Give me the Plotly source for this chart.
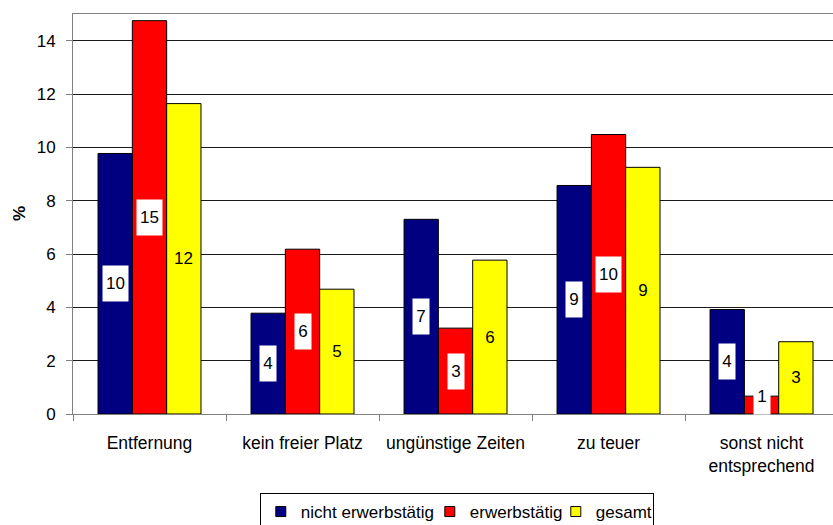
import plotly.graph_objects as go

categories = ["Entfernung", "kein freier Platz", "ungünstige Zeiten", "zu teuer",
              "sonst nicht<br>entsprechend"]
series_names = ["nicht erwerbstätig", "erwerbstätig", "gesamt"]
nicht_erwerbstaetig = [9.77, 3.78, 7.30, 8.57, 3.92]
erwerbstaetig = [14.75, 6.18, 3.22, 10.48, 0.67]
gesamt = [11.64, 4.68, 5.77, 9.25, 2.71]
y_ticks = [0, 2, 4, 6, 8, 10, 12, 14]

colors = ["#000080", "#FF0000", "#FFFF00"]
label_bg = ["white", "white", None]
legend_entry_widths = [124, 81, 52]
series = [nicht_erwerbstaetig, erwerbstaetig, gesamt]

FONT = "Liberation Sans, Arial, sans-serif"
FS = 17

fig = go.Figure()
for name, vals, col in zip(series_names, series, colors):
    fig.add_trace(go.Bar(
        x=categories, y=vals, name=name, showlegend=False,
        marker=dict(color=col, line=dict(color="#000000", width=1)),
    ))
# legend entries with small square symbols
for name, col, ew in zip(series_names, colors, legend_entry_widths):
    fig.add_trace(go.Scatter(
        x=[None], y=[None], mode="markers", name=name, legendwidth=ew,
        marker=dict(symbol="square", size=10, color=col,
                    line=dict(color="#000000", width=1)),
    ))

# data labels
plot_h = 400.0
y_max = 15.0
px_per_unit = plot_h / y_max
box_h = 35
min_center = (box_h / 2) / px_per_unit
n_series = len(series)
group_frac = 1 - 0.327
annotations = []
for si, (vals, bg) in enumerate(zip(series, label_bg)):
    for ci, v in enumerate(vals):
        xoff = (si - (n_series - 1) / 2) * group_frac / n_series
        txt = str(int(round(v)))
        ann = dict(
            x=ci + xoff, y=max(v / 2, min_center), xref="x", yref="y",
            text=txt, showarrow=False,
            font=dict(family=FONT, size=FS, color="#000000"),
            height=box_h - 2, width=9 * len(txt) + 5,
            xanchor="center", yanchor="middle",
        )
        if bg:
            ann["bgcolor"] = bg
        annotations.append(ann)

# y-axis title
annotations.append(dict(
    text="<b>%</b>", textangle=-90, showarrow=False,
    xref="paper", yref="paper", x=-0.071, y=0.5,
    xanchor="center", yanchor="middle",
    font=dict(family=FONT, size=FS, color="#000000"),
))

fig.update_layout(
    width=833, height=525,
    margin=dict(l=73, r=0, t=14, b=111, autoexpand=False),
    paper_bgcolor="white", plot_bgcolor="white",
    font=dict(family=FONT, size=FS, color="#000000"),
    barmode="group", bargap=0.327, bargroupgap=0,
    showlegend=True,
    legend=dict(
        orientation="h", x=0.505, xanchor="center",
        y=-0.1975, yanchor="top",
        bordercolor="#000000", borderwidth=1, itemwidth=30,
        font=dict(family=FONT, size=17), tracegroupgap=0,
    ),
    annotations=annotations,
)
fig.update_xaxes(
    type="category", range=[-0.5, 4.467], automargin=False,
    showline=True, linecolor="#808080", linewidth=1, mirror=True,
    ticks="outside", tickson="boundaries", ticklen=6, tickcolor="#808080",
    showgrid=False, tickfont=dict(family=FONT, size=17.5),
    ticklabelstandoff=13,
)
fig.update_yaxes(
    range=[0, 15], tickvals=y_ticks, ticktext=[str(t) for t in y_ticks],
    automargin=False,
    showline=True, linecolor="#808080", linewidth=1,
    ticks="outside", ticklen=6, tickcolor="#808080",
    showgrid=True, gridcolor="#1a1a1a", gridwidth=1, zeroline=False,
    tickfont=dict(family=FONT, size=FS), ticklabelstandoff=7,
)

fig.write_html("out.html", config={"displayModeBar": False},
               post_script="document.body.style.margin='0';")
